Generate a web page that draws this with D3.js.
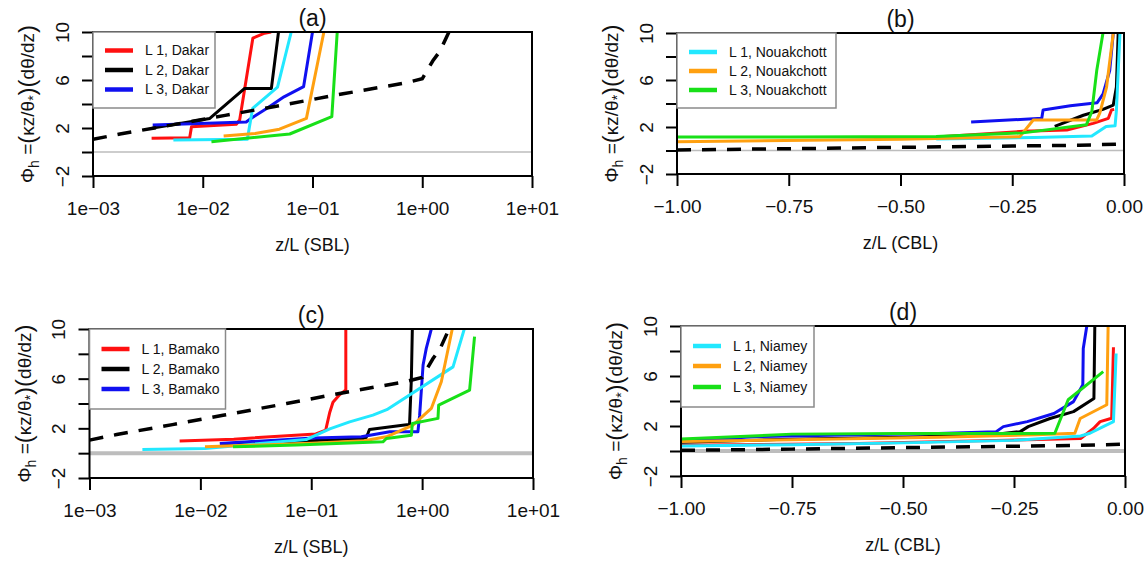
<!DOCTYPE html>
<html><head><meta charset="utf-8">
<script src="https://cdn.jsdelivr.net/npm/d3@7"></script>
<style>body{margin:0;background:#fff} svg{display:block} text{font-family:"Liberation Sans",Arial,sans-serif;fill:#111}</style>
</head><body><svg id="c" width="1148" height="563"></svg>
<script>
// ---------------- data ----------------
const sblTicks = [1e-3, 1e-2, 1e-1, 1, 10];
const sblTickLabels = ["1e\u221203", "1e\u221202", "1e\u221201", "1e+00", "1e+01"];
const cblTicks = [-1, -0.75, -0.5, -0.25, 0];
const cblTickLabels = ["\u22121.00", "\u22120.75", "\u22120.50", "\u22120.25", "0.00"];
const yTicks = [-2, 0, 2, 4, 6, 8, 10];
const yTickLabels = ["\u22122", "", "2", "", "6", "", "10"];

const refSBL = [[0.001,1.05],[0.00176,1.5],[0.0056,2.3],[0.016,3.05],[0.06,4.0],[0.19,4.85],[0.7,5.75],[1.0,6.1],[1.25,7.6],[1.45,8.4],[1.75,10]];
const refCBL = [[-1,0.05],[-0.75,0.15],[-0.5,0.27],[-0.25,0.38],[-0.1,0.45],[0,0.55]];

// panel (a): SBL, Dakar + Nouakchott
const sblDakarL1 = [[0.00342,1.14],[0.0076,1.19],[0.0079,2.11],[0.0202,2.31],[0.0217,2.67],[0.0286,9.48],[0.0366,9.9],[0.042,10]];
const sblDakarL2 = [[0.0035,2.0],[0.0116,2.8],[0.0241,5.3],[0.0422,5.3],[0.049,10]];
const sblDakarL3 = [[0.0035,2.25],[0.0249,2.5],[0.0275,2.8],[0.0395,3.7],[0.055,4.6],[0.083,5.45],[0.1,10]];
const sblNouakL1 = [[0.0054,1.0],[0.0255,1.06],[0.0265,1.97],[0.0285,3.64],[0.048,5.4],[0.064,10]];
const sblNouakL2 = [[0.0155,1.33],[0.03,1.55],[0.05,1.9],[0.088,2.8],[0.127,10]];
const sblNouakL3 = [[0.012,0.86],[0.062,1.5],[0.15,2.94],[0.168,10]];

// panel (b): CBL, Dakar + Nouakchott
const cblDakarL1 = [[-0.42,1.15],[-0.226,1.63],[-0.128,1.74],[-0.069,2.31],[-0.035,2.74],[-0.028,3.45],[-0.022,3.5]];
const cblDakarL2 = [[-0.155,2.05],[-0.091,3.0],[-0.047,3.5],[-0.024,3.87],[-0.017,5.4],[-0.013,10]];
const cblDakarL3 = [[-0.342,2.42],[-0.184,2.74],[-0.181,3.45],[-0.12,3.8],[-0.06,4.07],[-0.047,4.8],[-0.032,6.8],[-0.024,10]];
const cblNouakL1 = [[-0.42,0.97],[-0.2,1.1],[-0.072,1.23],[-0.04,2.05],[-0.02,2.1],[-0.017,3.4],[-0.009,10]];
const cblNouakL2 = [[-1,0.75],[-0.5,0.95],[-0.233,1.18],[-0.203,2.6],[-0.061,2.6],[-0.054,3.2],[-0.039,5.4],[-0.024,10]];
const cblNouakL3 = [[-1,1.15],[-0.75,1.15],[-0.42,1.2],[-0.226,1.5],[-0.084,2.2],[-0.072,3.3],[-0.061,6.8],[-0.047,10]];

// panel (c): SBL, Bamako + Niamey
const sblBamakoL1 = [[0.0065,0.97],[0.02,1.13],[0.11,1.55],[0.135,1.85],[0.147,3.3],[0.157,4.1],[0.18,4.7],[0.205,5.1],[0.205,10]];
const sblBamakoL2 = [[0.015,0.75],[0.1,1.0],[0.31,1.2],[0.325,1.6],[0.335,1.9],[0.695,2.26],[0.77,2.3],[0.8,6],[0.816,10]];
const sblBamakoL3 = [[0.015,0.78],[0.104,1.23],[0.283,1.32],[0.51,1.72],[0.916,1.72],[0.95,3.06],[1.02,7.1],[1.09,8.44],[1.21,10]];
const sblNiameyL1 = [[0.003,0.3],[0.011,0.38],[0.09,1.1],[0.147,1.95],[0.222,2.52],[0.36,3.06],[0.48,3.5],[1.9,6.95],[2.4,10]];
const sblNiameyL2 = [[0.011,0.51],[0.1,0.8],[0.3,1.0],[0.476,1.32],[0.826,2.26],[1.21,3.6],[1.49,5.75],[1.87,10]];
const sblNiameyL3 = [[0.0197,0.51],[0.0736,0.65],[0.443,0.91],[0.476,1.18],[0.8,1.45],[0.816,2.39],[1.39,2.8],[1.41,3.87],[2.68,5.08],[2.97,9.38]];

// panel (d): CBL, Bamako + Niamey
const cblBamakoL1 = [[-1,0.45],[-0.6,0.6],[-0.42,0.75],[-0.1,1.0],[-0.071,1.8],[-0.056,2.35],[-0.03,2.62],[-0.026,8.3]];
const cblBamakoL2 = [[-1,0.7],[-0.75,0.95],[-0.5,1.1],[-0.3,1.3],[-0.236,1.55],[-0.218,1.95],[-0.169,2.6],[-0.116,3.15],[-0.07,4.2],[-0.068,10]];
const cblBamakoL3 = [[-1,0.75],[-0.83,1.15],[-0.6,1.3],[-0.42,1.4],[-0.29,1.55],[-0.274,1.95],[-0.22,2.35],[-0.16,3.0],[-0.116,3.95],[-0.095,5.3],[-0.094,8.2],[-0.086,10]];
const cblNiameyL1 = [[-1,0.4],[-0.75,0.5],[-0.5,0.65],[-0.25,0.85],[-0.1,1.2],[-0.079,1.42],[-0.049,1.95],[-0.026,2.35],[-0.02,7.8]];
const cblNiameyL2 = [[-1,0.75],[-0.75,0.9],[-0.42,1.1],[-0.2,1.3],[-0.113,1.42],[-0.101,2.6],[-0.041,3.7],[-0.038,10]];
const cblNiameyL3 = [[-1,0.95],[-0.75,1.35],[-0.5,1.4],[-0.3,1.4],[-0.158,1.42],[-0.128,4.1],[-0.049,6.35]];

const legendA = ["L 1, Dakar", "L 2, Dakar", "L 3, Dakar"];
const legendB = ["L 1, Nouakchott", "L 2, Nouakchott", "L 3, Nouakchott"];
const legendC = ["L 1, Bamako", "L 2, Bamako", "L 3, Bamako"];
const legendD = ["L 1, Niamey", "L 2, Niamey", "L 3, Niamey"];
const panelTitles = ["(a)", "(b)", "(c)", "(d)"];

// ---------------- styling / layout ----------------
const C = {red:"#ff1010", black:"#000000", blue:"#1010f0", cyan:"#22e8ff", orange:"#ffa010", green:"#18e018"};
const svg = d3.select("#c");

const panels = [
  {id:"a", type:"sbl", box:[93,532,32,176], zeroW:1.5,
   series:[[sblDakarL1,C.red],[sblDakarL2,C.black],[sblDakarL3,C.blue],[sblNouakL1,C.cyan],[sblNouakL2,C.orange],[sblNouakL3,C.green]],
   ref:refSBL, legend:legendA, legCol:[C.red,C.black,C.blue], leg:{w:122,h:76,rows:[18.5,38,57.5]}},
  {id:"b", type:"cbl", box:[677,1124,33,174], zeroW:1.5,
   series:[[cblDakarL1,C.red],[cblDakarL2,C.black],[cblDakarL3,C.blue],[cblNouakL1,C.cyan],[cblNouakL2,C.orange],[cblNouakL3,C.green]],
   ref:refCBL, legend:legendB, legCol:[C.cyan,C.orange,C.green], leg:{w:159,h:75,rows:[19,38,57]}},
  {id:"c", type:"sbl", box:[89.5,533,329,478], zeroW:4,
   series:[[sblBamakoL1,C.red],[sblBamakoL2,C.black],[sblBamakoL3,C.blue],[sblNiameyL1,C.cyan],[sblNiameyL2,C.orange],[sblNiameyL3,C.green]],
   ref:refSBL, legend:legendC, legCol:[C.red,C.black,C.blue], leg:{w:136,h:80,rows:[20,40,60]}},
  {id:"d", type:"cbl", box:[681,1125,326,476], zeroW:4,
   series:[[cblBamakoL1,C.red],[cblBamakoL2,C.black],[cblBamakoL3,C.blue],[cblNiameyL1,C.cyan],[cblNiameyL2,C.orange],[cblNiameyL3,C.green]],
   ref:refCBL, legend:legendD, legCol:[C.cyan,C.orange,C.green], leg:{w:133,h:81,rows:[20,40,61]}}
];

const FONT = "Liberation Sans, Arial, sans-serif";

panels.forEach((p, i) => {
  const [L, R, T, B] = p.box;
  const x = p.type === "sbl" ? d3.scaleLog().domain([1e-3, 10]).range([L, R])
                             : d3.scaleLinear().domain([-1, 0]).range([L, R]);
  const y = d3.scaleLinear().domain([-2, 10]).range([B, T]);
  const g = svg.append("g");

  const clipId = "clip" + p.id;
  g.append("clipPath").attr("id", clipId).append("rect")
    .attr("x", L).attr("y", T).attr("width", R - L).attr("height", B - T);

  // zero line
  g.append("line").attr("x1", L).attr("x2", R).attr("y1", y(0)).attr("y2", y(0))
    .attr("stroke", "#bdbdbd").attr("stroke-width", p.zeroW);

  const line = d3.line().x(d => x(d[0])).y(d => y(d[1]));
  const lg = g.append("g").attr("clip-path", `url(#${clipId})`);
  p.series.forEach(([data, col]) => {
    lg.append("path").attr("d", line(data)).attr("fill", "none")
      .attr("stroke", col).attr("stroke-width", 3).attr("stroke-linejoin", "round");
  });
  lg.append("path").attr("d", line(p.ref)).attr("fill", "none")
    .attr("stroke", "#000").attr("stroke-width", 3.5).attr("stroke-dasharray", "14,11");

  // axes
  const xAxis = p.type === "sbl"
    ? d3.axisBottom(x).tickValues(sblTicks).tickFormat((d, k) => sblTickLabels[k])
    : d3.axisBottom(x).tickValues(cblTicks).tickFormat((d, k) => cblTickLabels[k]);
  const xa = g.append("g").attr("transform", `translate(0,${B})`).call(xAxis.tickSize(12).tickPadding(14));
  xa.select(".domain").remove();
  xa.selectAll("line").attr("stroke", "#000").attr("stroke-width", 2);
  xa.selectAll("text").attr("font-size", 19).attr("fill", "#111").attr("font-family", FONT);

  const ya = g.append("g").attr("transform", `translate(${L},0)`)
    .call(d3.axisLeft(y).tickValues(yTicks).tickFormat((d, k) => yTickLabels[k]).tickSize(11).tickPadding(0));
  ya.select(".domain").remove();
  ya.selectAll("line").attr("stroke", "#000").attr("stroke-width", 2);
  ya.selectAll("text").attr("font-size", 19).attr("fill", "#111").attr("font-family", FONT)
    .attr("text-anchor", "middle").attr("x", 0).attr("dy", 0)
    .attr("transform", "translate(-31,0) rotate(-90)").attr("dominant-baseline", "central");

  // box
  g.append("rect").attr("x", L).attr("y", T).attr("width", R - L).attr("height", B - T)
    .attr("fill", "none").attr("stroke", "#000").attr("stroke-width", 2);

  // legend
  const lgd = g.append("g").attr("transform", `translate(${L},${T})`);
  lgd.append("rect").attr("width", p.leg.w).attr("height", p.leg.h)
    .attr("fill", "#fff").attr("stroke", "#8a8a8a").attr("stroke-width", 1.5);
  p.legend.forEach((t, k) => {
    const ry = p.leg.rows[k];
    lgd.append("line").attr("x1", 12).attr("x2", 40).attr("y1", ry).attr("y2", ry)
      .attr("stroke", p.legCol[k]).attr("stroke-width", 4.5);
    lgd.append("text").attr("x", 52).attr("y", ry).attr("dy", "0.35em")
      .attr("font-size", 14).text(t);
  });

  // panel title
  g.append("text").attr("x", (L + R) / 2).attr("y", T - 6).attr("text-anchor", "middle")
    .attr("font-size", 23).text(panelTitles[i]);

  // x title
  g.append("text").attr("x", (L + R) / 2).attr("y", B + 75).attr("text-anchor", "middle")
    .attr("font-size", 18).text(p.type === "sbl" ? "z/L (SBL)" : "z/L (CBL)");

  // y title
  const yt = g.append("text").attr("transform", `translate(${L - 59},${(T + B) / 2}) rotate(-90)`)
    .attr("text-anchor", "middle").attr("font-size", 19);
  yt.append("tspan").text("\u03A6");
  yt.append("tspan").attr("font-size", 14).attr("dy", 5).text("h");
  yt.append("tspan").attr("dy", -5).text(" =");
  yt.append("tspan").attr("font-size", 24).attr("dy", 1).text("(");
  yt.append("tspan").attr("dy", -1).text("\u03BAz/\u03B8");
  yt.append("tspan").attr("font-size", 14).attr("dy", 4).text("*");
  yt.append("tspan").attr("font-size", 24).attr("dy", -3).text(")(");
  yt.append("tspan").attr("dy", -1).text("d\u03B8/dz");
  yt.append("tspan").attr("font-size", 24).attr("dy", 1).text(")");
});
</script>
</body></html>
